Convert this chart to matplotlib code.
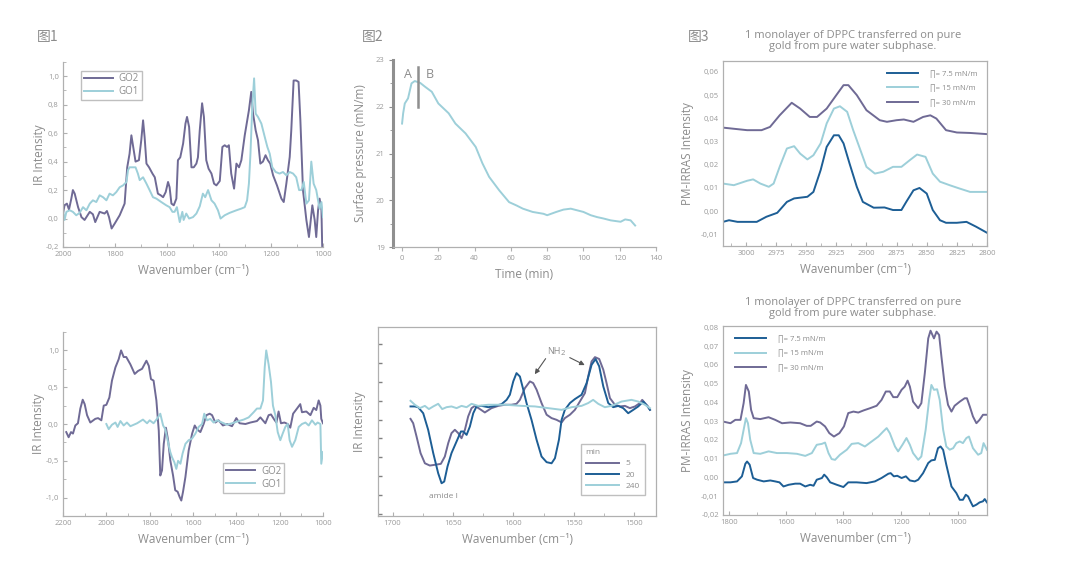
import matplotlib
matplotlib.use("Agg")
import matplotlib.pyplot as plt
from matplotlib.ticker import FuncFormatter, MultipleLocator

plt.rcParams['font.family'] = ['Open Sans', 'DejaVu Sans']

PURPLE = '#6f6a95'
LIGHT = '#9dcfd9'
DARK = '#1d5e95'
GRAY = '#9a9a9a'
SPINE = '#b0b0b0'
LBL = '#8c8c8c'

# ---------------- Panel 1 data (top-left) ----------------
p1_go2_x = [2000,1994,1985,1977,1968,1962,1955,1942,1929,1917,1897,1885,1876,1859,1840,1831,1823,1813,1801,1782,1763,1753,1744,1737,1731,1721,1708,1699,1692,1686,1679,1669,1656,1647,1635,1624,1615,1605,1596,1590,1583,1574,1564,1558,1549,1538,1529,1523,1515,1506,1497,1487,1481,1474,1465,1458,1449,1440,1429,1419,1410,1397,1387,1378,1369,1362,1353,1342,1333,1323,1314,1301,1285,1276,1269,1259,1250,1241,1231,1221,1212,1203,1192,1177,1160,1151,1141,1128,1122,1113,1103,1094,1087,1077,1064,1054,1047,1041,1032,1026,1019,1013,1006,1003,1000]
p1_go2_y = [0.035,0.093,0.105,0.063,0.14,0.2,0.175,0.08,0.01,-0.01,0.047,0.03,-0.025,0.047,0.035,0.053,0.01,-0.07,-0.035,0.023,0.105,0.36,0.455,0.585,0.515,0.4,0.41,0.55,0.69,0.57,0.386,0.36,0.316,0.29,0.175,0.163,0.15,0.186,0.257,0.22,0.105,0.093,0.14,0.41,0.43,0.527,0.667,0.714,0.644,0.36,0.36,0.386,0.43,0.62,0.81,0.714,0.41,0.35,0.316,0.245,0.233,0.264,0.503,0.515,0.503,0.515,0.316,0.21,0.386,0.36,0.41,0.585,0.76,0.89,0.737,0.62,0.55,0.386,0.4,0.445,0.41,0.386,0.304,0.233,0.14,0.116,0.245,0.433,0.62,0.97,0.97,0.96,0.69,0.2,-0.01,-0.13,-0.01,0.093,-0.01,-0.13,0.058,0.14,0.058,-0.2,-0.22]
p1_go1_x = [2000,1994,1987,1974,1962,1949,1936,1923,1910,1897,1885,1872,1859,1846,1833,1821,1808,1795,1782,1769,1756,1750,1744,1731,1721,1712,1705,1692,1679,1667,1654,1641,1622,1603,1590,1579,1571,1562,1551,1541,1536,1526,1515,1500,1487,1474,1462,1453,1442,1429,1417,1404,1394,1378,1359,1333,1314,1301,1292,1285,1279,1272,1265,1259,1250,1237,1224,1214,1205,1195,1182,1167,1154,1141,1128,1115,1103,1092,1083,1074,1064,1054,1045,1036,1026,1019,1013,1006,1000]
p1_go1_y = [0.058,-0.01,0.047,0.058,0.047,0.023,0.04,0.08,0.058,0.105,0.128,0.116,0.163,0.15,0.128,0.175,0.163,0.186,0.22,0.233,0.257,0.34,0.36,0.36,0.36,0.316,0.27,0.29,0.245,0.2,0.15,0.14,0.116,0.093,0.08,0.047,0.047,0.08,-0.025,0.047,-0.01,0.035,0.0,0.01,0.035,0.086,0.175,0.15,0.2,0.128,0.105,0.058,0.0,0.023,0.04,0.058,0.07,0.08,0.128,0.245,0.456,0.785,0.985,0.737,0.714,0.667,0.573,0.503,0.456,0.36,0.327,0.316,0.327,0.304,0.327,0.316,0.29,0.2,0.2,0.257,0.105,0.128,0.4,0.245,0.2,0.128,0.07,0.116,0.01]

# ---------------- Panel 2 data (top-middle) ----------------
p2_t = [0,0.6,1.5,3.3,5.2,7,10,12.6,16.4,20,25.7,29.4,35,40.6,44.3,48,53.6,59,63,66.6,72,78,80,85,89,93,96,100,104,107.5,111,115,120.5,123,126,128.5]
p2_p = [21.64,21.86,22.07,22.18,22.5,22.55,22.51,22.43,22.32,22.07,21.86,21.64,21.43,21.14,20.79,20.5,20.21,19.96,19.89,19.82,19.75,19.71,19.68,19.75,19.8,19.82,19.79,19.75,19.68,19.64,19.61,19.57,19.54,19.59,19.57,19.46]
p2_marker_t = 8.8
p2_marker_range = [21.99, 22.85]

# ---------------- Panel 3 data (top-right) ----------------
p3_75_x = [3019,3014,3007,2991,2983,2974,2966,2960,2949,2944,2938,2933,2927,2923,2919,2914,2908,2903,2894,2885,2878,2871,2867,2861,2856,2850,2845,2839,2834,2825,2817,2809,2800]
p3_75_y = [-0.0046,-0.0039,-0.0046,-0.0046,-0.0024,-0.0007,0.0040,0.0055,0.0062,0.0083,0.0177,0.0277,0.0327,0.0327,0.0292,0.0205,0.0105,0.0040,0.0015,0.0016,0.0005,0.0005,0.004,0.009,0.010,0.0076,0.0005,-0.0039,-0.005,-0.005,-0.0046,-0.0067,-0.0093]
p3_15_x = [3019,3010,2999,2994,2988,2981,2977,2972,2966,2960,2955,2949,2944,2938,2933,2927,2922,2916,2911,2905,2900,2893,2886,2878,2871,2864,2858,2851,2845,2839,2831,2823,2814,2800]
p3_15_y = [0.0119,0.0112,0.0131,0.0137,0.0119,0.0105,0.0119,0.0191,0.027,0.028,0.0248,0.0223,0.0241,0.0292,0.0378,0.0442,0.0452,0.0428,0.0349,0.0263,0.0191,0.0162,0.0170,0.0191,0.0191,0.0220,0.0244,0.0234,0.0162,0.0127,0.0112,0.0098,0.0083,0.0083]
p3_30_x = [3019,2999,2987,2980,2972,2962,2955,2947,2941,2933,2925,2919,2915,2908,2900,2889,2883,2875,2869,2861,2853,2847,2842,2834,2825,2814,2800]
p3_30_y = [0.0360,0.0349,0.0349,0.0363,0.0413,0.0467,0.0442,0.0406,0.0406,0.0442,0.050,0.0543,0.0543,0.050,0.0435,0.0392,0.0385,0.0392,0.0395,0.0385,0.0406,0.0413,0.0399,0.0349,0.0339,0.0337,0.0332]

# ---------------- Panel 4 data (bottom-left) ----------------
p4_go2_x = [2185,2174,2163,2154,2143,2131,2120,2109,2100,2089,2074,2051,2038,2023,2012,2000,1986,1974,1958,1943,1932,1920,1908,1889,1869,1854,1835,1815,1804,1794,1782,1769,1758,1751,1743,1735,1725,1715,1705,1692,1682,1671,1662,1654,1646,1635,1620,1604,1592,1582,1566,1551,1538,1523,1512,1497,1482,1462,1443,1420,1400,1385,1358,1335,1305,1289,1266,1251,1240,1225,1215,1205,1194,1178,1163,1151,1138,1120,1105,1097,1077,1058,1043,1031,1020,1012,1008,1000]
p4_go2_y = [-0.11,-0.18,-0.11,-0.13,-0.02,0.01,0.21,0.33,0.27,0.12,0.02,0.07,0.08,0.05,0.25,0.26,0.36,0.59,0.77,0.88,1.0,0.91,0.91,0.81,0.68,0.72,0.75,0.86,0.79,0.61,0.59,0.32,-0.09,-0.70,-0.63,-0.27,-0.05,-0.22,-0.49,-0.70,-0.90,-0.92,-0.99,-1.04,-0.92,-0.72,-0.36,-0.13,-0.02,-0.07,-0.11,0.0,0.12,0.14,0.12,0.02,0.05,-0.02,0.0,-0.03,0.08,0.01,0.0,0.02,0.04,0.09,0.01,0.12,0.13,0.06,0.02,0.17,0.01,0.02,0.0,-0.05,0.14,0.21,0.27,0.16,0.17,0.12,0.22,0.19,0.32,0.25,0.07,0.01]
p4_go1_x = [2000,1989,1974,1958,1948,1935,1920,1905,1889,1858,1831,1812,1800,1782,1766,1751,1738,1728,1715,1705,1697,1686,1677,1669,1658,1648,1635,1620,1605,1589,1574,1558,1548,1535,1520,1505,1489,1466,1443,1420,1389,1366,1343,1320,1305,1289,1277,1269,1262,1251,1240,1231,1220,1209,1197,1186,1174,1163,1154,1143,1128,1112,1097,1081,1066,1051,1035,1025,1012,1008,1000]
p4_go1_y = [0.0,-0.07,-0.01,0.02,-0.04,0.04,-0.02,0.02,-0.03,0.01,0.06,0.01,0.05,0.01,0.07,0.14,-0.02,-0.07,-0.25,-0.38,-0.45,-0.52,-0.61,-0.50,-0.54,-0.40,-0.27,-0.22,-0.2,-0.13,-0.04,0.0,0.14,0.05,0.07,0.02,0.05,0.02,-0.01,0.01,0.04,0.06,0.09,0.16,0.21,0.21,0.32,0.77,1.0,0.81,0.57,0.25,0.12,-0.11,-0.22,-0.13,-0.04,0.0,-0.22,-0.31,-0.22,-0.04,0.0,0.02,-0.02,0.05,-0.01,0.02,0.0,-0.54,-0.38]

# ---------------- Panel 5 data (bottom-middle) ----------------
p5_5_x = [1685.1,1682.9,1680.1,1676.8,1673.2,1669.1,1664.9,1660,1656.7,1653.9,1651.2,1648.4,1645.6,1642.9,1640.1,1637.4,1634.6,1631.9,1627.7,1623.6,1618.1,1612.5,1607,1601.5,1597.4,1594.6,1590.5,1586.3,1583.6,1580.8,1576.7,1572.5,1568.4,1564.3,1560.1,1557.4,1553.2,1549.1,1545,1540.8,1538.1,1535.3,1532.5,1529,1525.6,1522.9,1520.1,1516,1511.8,1507.7,1503.6,1499.4,1495.3,1493.4,1491.2,1489,1487]
p5_5_y = [-0.96,-1.19,-1.9,-2.78,-3.32,-3.44,-3.4,-3.35,-2.96,-2.25,-1.72,-1.54,-1.72,-1.99,-1.54,-0.83,-0.39,-0.27,-0.44,-0.62,-0.39,-0.27,-0.21,-0.21,-0.16,0.05,0.67,1.03,0.94,0.59,-0.12,-0.74,-0.92,-1.01,-1.15,-0.92,-0.74,-0.48,-0.04,0.41,1.29,2.09,2.32,2.22,1.65,0.94,0.14,-0.21,-0.3,-0.27,-0.39,-0.3,-0.12,0.05,-0.12,-0.27,-0.48]
p5_20_x = [1685.1,1681.5,1678.8,1674.6,1670.5,1666.3,1662.2,1659.4,1657.2,1654.5,1651.2,1647,1643.4,1641.5,1638.7,1636,1633.2,1630.5,1626.3,1620.8,1615.3,1609.8,1605.6,1602.9,1600.1,1597.4,1594.6,1591.8,1589.1,1585,1580.8,1576.7,1572.5,1568.4,1565.6,1562.3,1560.1,1557.4,1553.2,1549.1,1543.6,1539.4,1535.3,1532,1529,1525.6,1521.5,1517.4,1513.2,1509.1,1505,1500.8,1496.7,1492.5,1489,1487]
p5_20_y = [-0.3,-0.3,-0.34,-0.66,-1.54,-2.78,-3.85,-4.38,-4.29,-3.49,-2.78,-2.16,-1.63,-1.63,-1.81,-1.37,-0.66,-0.3,-0.27,-0.34,-0.27,-0.18,0.05,0.32,1.03,1.47,1.29,0.59,-0.12,-1.01,-2.07,-2.96,-3.26,-3.32,-3.05,-2.07,-1.01,-0.48,-0.12,0.09,0.32,0.94,1.91,2.22,1.83,0.76,-0.12,-0.34,-0.27,-0.39,-0.66,-0.48,-0.3,-0.04,-0.3,-0.48]
p5_240_x = [1685.1,1681.5,1677.4,1673.2,1669.9,1666.3,1662.2,1658.9,1655.3,1651.2,1647,1642.9,1638.7,1634.6,1629.1,1620.8,1607,1593.2,1582.2,1571.2,1560.1,1551.8,1543.6,1538.1,1534,1529.8,1524.3,1518.8,1510.5,1502.3,1496.7,1491.2,1487]
p5_240_y = [0.0,-0.21,-0.39,-0.27,-0.44,-0.3,-0.16,-0.44,-0.34,-0.3,-0.39,-0.27,-0.34,-0.16,-0.27,-0.21,-0.21,-0.27,-0.3,-0.39,-0.48,-0.34,-0.27,-0.12,0.05,-0.16,-0.34,-0.27,-0.04,0.05,-0.04,-0.21,-0.39]

# ---------------- Panel 6 data (bottom-right) ----------------
p6_75_x = [1820,1794,1771,1754,1742,1736,1727,1715,1701,1678,1655,1638,1623,1609,1591,1568,1551,1533,1516,1504,1493,1475,1467,1458,1446,1423,1400,1383,1354,1319,1290,1267,1243,1235,1224,1212,1197,1182,1168,1151,1139,1122,1104,1093,1081,1070,1061,1052,1041,1023,1006,994,983,973,965,954,948,936,925,913,907,899]
p6_75_y = [-0.0026,-0.0026,-0.0021,0.0006,0.0073,0.0085,0.0068,-0.0003,-0.0012,-0.0021,-0.0016,-0.0021,-0.0026,-0.0048,-0.0039,-0.0033,-0.0033,-0.0048,-0.0039,-0.0044,-0.0012,-0.0003,0.0015,0.0001,-0.0026,-0.0039,-0.0051,-0.0026,-0.0026,-0.003,-0.0021,-0.0003,0.002,0.0023,0.0006,0.0009,-0.0003,0.0006,-0.0016,-0.0021,-0.0012,0.0023,0.0077,0.0091,0.0094,0.0156,0.0165,0.0147,0.0068,-0.0048,-0.0083,-0.0119,-0.0119,-0.0092,-0.0101,-0.0136,-0.0154,-0.0145,-0.0133,-0.0127,-0.0115,-0.0133]
p6_15_x = [1820,1794,1771,1757,1748,1740,1733,1725,1713,1690,1661,1632,1597,1562,1533,1510,1493,1475,1464,1452,1441,1429,1412,1388,1371,1348,1325,1301,1278,1261,1249,1238,1220,1209,1194,1180,1168,1157,1139,1128,1113,1101,1093,1084,1073,1064,1052,1041,1029,1017,1006,994,983,971,962,948,930,919,911,899]
p6_15_y = [0.0117,0.0126,0.013,0.0183,0.0254,0.0316,0.0289,0.0201,0.013,0.0126,0.0139,0.013,0.013,0.0126,0.0115,0.013,0.0174,0.0179,0.0186,0.013,0.0098,0.0094,0.0121,0.0148,0.0179,0.0183,0.0165,0.0192,0.0218,0.0245,0.0263,0.0236,0.0165,0.0139,0.0174,0.021,0.0174,0.013,0.0094,0.0112,0.0254,0.0413,0.0493,0.0467,0.047,0.0413,0.0254,0.0165,0.0148,0.0156,0.0183,0.0192,0.0183,0.021,0.0218,0.0156,0.0121,0.013,0.0183,0.0147]
p6_30_x = [1820,1794,1777,1759,1748,1740,1730,1722,1713,1690,1661,1638,1614,1585,1551,1528,1514,1493,1481,1464,1449,1433,1414,1398,1383,1365,1348,1330,1307,1284,1267,1252,1238,1226,1212,1197,1186,1176,1168,1157,1139,1128,1116,1104,1096,1084,1075,1066,1058,1046,1035,1023,1012,994,977,969,959,948,936,925,913,899]
p6_30_y = [0.0298,0.0289,0.0307,0.0307,0.0396,0.0493,0.0458,0.036,0.0316,0.0311,0.0321,0.0307,0.0289,0.0293,0.0289,0.0275,0.0275,0.0298,0.0293,0.0272,0.0236,0.0218,0.0236,0.0272,0.0343,0.0351,0.0346,0.0357,0.0369,0.0382,0.0413,0.0458,0.0458,0.0428,0.0428,0.0467,0.0484,0.0516,0.0484,0.0404,0.0369,0.0396,0.0555,0.0741,0.0782,0.0741,0.0777,0.0759,0.0644,0.0484,0.0387,0.0351,0.0382,0.0404,0.0422,0.0422,0.0378,0.0325,0.0289,0.0307,0.0334,0.0334]

DPPC_TITLE = "1 monolayer of DPPC transferred on pure\ngold from pure water subphase."
PI_LABELS = ["∏= 7.5 mN/m", "∏= 15 mN/m", "∏= 30 mN/m"]
MIN_LABELS = ["5", "20", "240"]

W, H = 1066, 581
fig = plt.figure(figsize=(W/100, H/100), dpi=100)
fig.patch.set_facecolor('white')


def add_ax(l, t, r, b):
    return fig.add_axes([l/W, 1-b/H, (r-l)/W, (b-t)/H])


def comma(dec):
    return FuncFormatter(lambda v, p: (f"{v:.{dec}f}").replace('.', ',') if abs(v) > 1e-9 else ("0," + "0"*dec))


def style(ax, box=False):
    for s in ['left', 'bottom', 'top', 'right']:
        ax.spines[s].set_color(SPINE)
        ax.spines[s].set_linewidth(0.9)
    if not box:
        ax.spines['top'].set_visible(False)
        ax.spines['right'].set_visible(False)
    ax.tick_params(which='both', direction='in', colors=SPINE, labelcolor=GRAY, labelsize=5.5, pad=3)
    ax.tick_params(which='major', length=3)
    ax.tick_params(which='minor', length=2)
    ax.set_facecolor('white')


def xlab(ax, text="Wavenumber (cm⁻¹)"):
    ax.set_xlabel(text, fontsize=8.5, color=LBL, labelpad=4)


def ylab(ax, text, pad=2):
    ax.set_ylabel(text, fontsize=8.5, color=LBL, labelpad=pad)


def panel_tag(x, y, s):
    fig.text(x/W, 1-y/H, s, fontsize=10, color=LBL, family=['Noto Sans CJK SC', 'DejaVu Sans'], va='center', ha='left')


LW = 1.4

# ---- Panel 1 ----
ax1 = add_ax(63, 62, 323, 247)
style(ax1)
ax1.plot(p1_go2_x, p1_go2_y, color=PURPLE, lw=LW, label="GO2")
ax1.plot(p1_go1_x, p1_go1_y, color=LIGHT, lw=LW, label="GO1")
ax1.set_xlim(2000, 1000)
ax1.set_ylim(-0.2, 1.1)
ax1.xaxis.set_major_locator(MultipleLocator(200))
ax1.xaxis.set_minor_locator(MultipleLocator(100))
ax1.yaxis.set_major_locator(MultipleLocator(0.2))
ax1.yaxis.set_minor_locator(MultipleLocator(0.1))
ax1.yaxis.set_major_formatter(comma(1))
xlab(ax1); ylab(ax1, "IR Intensity", pad=0)
leg = ax1.legend(loc='upper left', bbox_to_anchor=(0.05, 0.98), fontsize=7, frameon=True, fancybox=False,
                 edgecolor=SPINE, handlelength=3, borderpad=0.3, labelspacing=0.2, handletextpad=0.6)
for t in leg.get_texts():
    t.set_color(LBL)
panel_tag(37, 37, "图1")

# ---- Panel 2 ----
ax2 = add_ax(393, 60, 656, 247)
style(ax2)
ax2.spines['left'].set_linewidth(2.2)
ax2.spines['left'].set_color('#8f8f8f')
ax2.plot(p2_t, p2_p, color=LIGHT, lw=LW)
ax2.plot([p2_marker_t, p2_marker_t], p2_marker_range, color='#8f8f8f', lw=1.8)
ax2.text(3.5, 22.68, "A", fontsize=9, color=LBL, ha='center', va='center')
ax2.text(15.5, 22.68, "B", fontsize=9, color=LBL, ha='center', va='center')
ax2.set_xlim(-5, 140)
ax2.set_ylim(19, 23)
ax2.xaxis.set_major_locator(MultipleLocator(20))
ax2.yaxis.set_major_locator(MultipleLocator(1))
ax2.yaxis.set_minor_locator(MultipleLocator(0.5))
ax2.tick_params(axis='y', which='both', direction='out', colors='#8f8f8f', labelcolor=GRAY)
ax2.tick_params(axis='x', which='major', direction='out', length=3)
xlab(ax2, "Time (min)"); ylab(ax2, "Surface pressure (mN/m)", pad=6)
panel_tag(362, 37, "图2")

# ---- Panel 3 ----
ax3 = add_ax(723, 61, 987, 246)
style(ax3, box=True)
h1, = ax3.plot(p3_75_x, p3_75_y, color=DARK, lw=LW)
h2, = ax3.plot(p3_15_x, p3_15_y, color=LIGHT, lw=LW)
h3, = ax3.plot(p3_30_x, p3_30_y, color=PURPLE, lw=LW)
ax3.set_xlim(3019, 2800)
ax3.set_ylim(-0.015, 0.0647)
ax3.xaxis.set_major_locator(MultipleLocator(25))
ax3.xaxis.set_minor_locator(MultipleLocator(12.5))
ax3.yaxis.set_major_locator(MultipleLocator(0.01))
ax3.yaxis.set_major_formatter(comma(2))
ax3.tick_params(axis='y', which='major', length=0)
xlab(ax3); ylab(ax3, "PM-IRRAS Intensity", pad=5)
leg3 = ax3.legend([h1, h2, h3], PI_LABELS, loc='upper right', bbox_to_anchor=(0.99, 0.99), fontsize=5.5,
                  frameon=False, handlelength=4, labelspacing=0.9, handletextpad=1.6)
for t in leg3.get_texts():
    t.set_color(LBL)
fig.text(853/W, 1-41/H, DPPC_TITLE, fontsize=8, color=LBL, ha='center', va='center', linespacing=1.1)
panel_tag(688, 37, "图3")

# ---- Panel 4 ----
ax4 = add_ax(63, 332, 323, 516)
style(ax4)
g2, = ax4.plot(p4_go2_x, p4_go2_y, color=PURPLE, lw=LW)
g1, = ax4.plot(p4_go1_x, p4_go1_y, color=LIGHT, lw=LW)
ax4.set_xlim(2200, 1000)
ax4.set_ylim(-1.25, 1.25)
ax4.xaxis.set_major_locator(MultipleLocator(200))
ax4.xaxis.set_minor_locator(MultipleLocator(100))
ax4.yaxis.set_major_locator(MultipleLocator(0.5))
ax4.yaxis.set_minor_locator(MultipleLocator(0.25))
ax4.yaxis.set_major_formatter(comma(1))
xlab(ax4); ylab(ax4, "IR Intensity", pad=0)
leg4 = ax4.legend([g2, g1], ["GO2", "GO1"], loc='lower right', bbox_to_anchor=(0.87, 0.1), fontsize=7,
                  frameon=True, fancybox=False, edgecolor=SPINE, handlelength=3, borderpad=0.3,
                  labelspacing=0.2, handletextpad=0.6)
for t in leg4.get_texts():
    t.set_color(LBL)

# ---- Panel 5 ----
ax5 = add_ax(378, 327, 656, 516)
style(ax5, box=True)
m1, = ax5.plot(p5_5_x, p5_5_y, color=PURPLE, lw=LW)
m2, = ax5.plot(p5_20_x, p5_20_y, color=DARK, lw=LW)
m3, = ax5.plot(p5_240_x, p5_240_y, color=LIGHT, lw=LW)
ax5.set_xlim(1712, 1482)
ax5.set_ylim(-6.12, 3.92)
ax5.xaxis.set_major_locator(MultipleLocator(50))
ax5.xaxis.set_minor_locator(MultipleLocator(25))
ax5.yaxis.set_major_locator(MultipleLocator(1))
ax5.yaxis.set_major_formatter(FuncFormatter(lambda v, p: ""))
ax5.tick_params(axis='y', which='major', length=3, color='#808080', width=1)
xlab(ax5); ylab(ax5, "IR Intensity", pad=6)
ax5.annotate("", xy=(1583.6, 1.29), xytext=(1572, 2.36),
             arrowprops=dict(arrowstyle='-|>', color='#555555', lw=0.8, mutation_scale=7))
ax5.annotate("", xy=(1538.9, 1.83), xytext=(1555.4, 2.36),
             arrowprops=dict(arrowstyle='-|>', color='#555555', lw=0.8, mutation_scale=7))
ax5.text(1566.5, 2.6, "NH", fontsize=6.5, color=LBL, ha='center', va='center')
ax5.text(1559, 2.5, "2", fontsize=5.5, color=LBL, ha='center', va='center')
ax5.text(1658, -5.1, "amide I", fontsize=6, color=LBL, ha='center', va='center')
leg5 = ax5.legend([m1, m2, m3], MIN_LABELS, title="min", loc='lower right', bbox_to_anchor=(0.975, 0.09),
                  fontsize=6, title_fontsize=6, frameon=True, fancybox=False, edgecolor=SPINE,
                  handlelength=4, labelspacing=0.4, handletextpad=0.8, borderpad=0.6, alignment='left')
leg5.get_title().set_color(LBL)
for t in leg5.get_texts():
    t.set_color(LBL)

# ---- Panel 6 ----
ax6 = add_ax(723, 326, 987, 515)
style(ax6, box=True)
k1, = ax6.plot(p6_75_x, p6_75_y, color=DARK, lw=LW)
k2, = ax6.plot(p6_15_x, p6_15_y, color=LIGHT, lw=LW)
k3, = ax6.plot(p6_30_x, p6_30_y, color=PURPLE, lw=LW)
ax6.set_xlim(1820, 899)
ax6.set_ylim(-0.02, 0.0807)
ax6.xaxis.set_major_locator(MultipleLocator(200))
ax6.xaxis.set_minor_locator(MultipleLocator(100))
ax6.yaxis.set_major_locator(MultipleLocator(0.01))
ax6.yaxis.set_major_formatter(comma(2))
ax6.tick_params(axis='y', which='major', length=0)
xlab(ax6); ylab(ax6, "PM-IRRAS Intensity", pad=5)
leg6 = ax6.legend([k1, k2, k3], PI_LABELS, loc='upper left', bbox_to_anchor=(0.02, 0.99), fontsize=5.5,
                  frameon=False, handlelength=4, labelspacing=0.9, handletextpad=1.6)
for t in leg6.get_texts():
    t.set_color(LBL)
fig.text(853/W, 1-308/H, DPPC_TITLE, fontsize=8, color=LBL, ha='center', va='center', linespacing=1.1)

fig.savefig("out.png", dpi=100, facecolor='white')
